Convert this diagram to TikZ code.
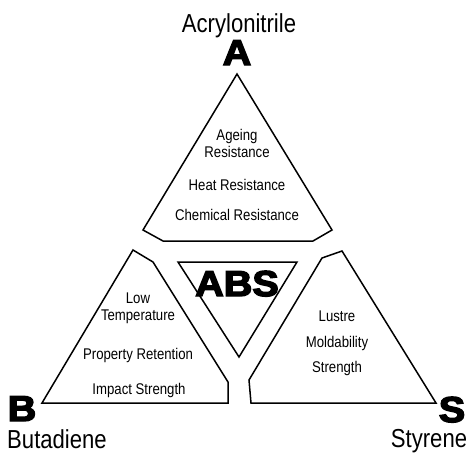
\documentclass[tikz,border=0pt]{standalone}
\usepackage{fontspec}
\setmainfont[FakeStretch=0.85]{Liberation Sans}
\newfontfamily\heavyfont[FakeBold=4,FakeStretch=1.1]{Liberation Sans Bold}
\usetikzlibrary{positioning}

\tikzset{
  part/.style={draw=black,line width=1.5pt,line join=miter},
  prop/.style={font=\fontsize{15.5}{17}\selectfont,align=center,inner sep=0pt},
  monomer/.style={font=\fontsize{26}{28}\selectfont,inner sep=0pt,anchor=base},
  letter/.style={font=\heavyfont\fontsize{36}{36}\selectfont,inner sep=0pt,
                 text depth=0pt,anchor=base}
}

\begin{document}
\begin{tikzpicture}[x=1pt,y=-1pt]
   \useasboundingbox (0,0) rectangle (466,453);
   % corner points of the blocks
   \coordinate (a_top) at (237,74);
   \coordinate (a_r)   at (332,230);
   \coordinate (a_rb)  at (313,241);
   \coordinate (a_lb)  at (163,241);
   \coordinate (a_l)   at (143,230);
   \coordinate (b_top) at (133,250);
   \coordinate (b_cut) at (153,262);
   \coordinate (b_rt)  at (228,382);
   \coordinate (b_rb)  at (228,403);
   \coordinate (b_l)   at (42,403);
   \coordinate (s_top) at (342,251);
   \coordinate (s_cut) at (322,258);
   \coordinate (s_lt)  at (249,380);
   \coordinate (s_lb)  at (251,403);
   \coordinate (s_r)   at (436,403);
   \coordinate (c_l)   at (178,262);
   \coordinate (c_r)   at (297,262);
   \coordinate (c_b)   at (239,357);

   \draw[part] (a_top) -- (a_r) -- (a_rb) -- (a_lb) -- (a_l) -- cycle;
   \draw[part] (b_top) -- (b_cut) -- (b_rt) -- (b_rb) -- (b_l) -- cycle;
   \draw[part] (s_top) -- (s_cut) -- (s_lt) -- (s_lb) -- (s_r) -- cycle;
   \draw[part] (c_l) -- (c_r) -- (c_b) -- cycle;

   % labels
   \node[monomer] (acn) at (239,32) {Acrylonitrile};
   \node[letter] (A) at (237,65) {A};
   \node[letter] (B) at (22,421) {B};
   \node[monomer] (bd) at (57,448) {Butadiene};
   \node[letter] (S) at (452,422) {S};
   \node[monomer] (sty) at (429,447) {Styrene};
   \node[letter] (abs) at (237,296) {ABS};

   \node[prop] (age)  at (237,143) {Ageing\\Resistance};
   \node[prop] (heat) at (237,185) {Heat Resistance};
   \node[prop] (chem) at (237,215) {Chemical Resistance};

   \node[prop] (low)  at (138,308) {Low\\Temperature};
   \node[prop] (ret)  at (138,355) {Property Retention};
   \node[prop] (imp)  at (139,390) {Impact Strength};

   \node[prop] (lus)  at (337,316) {Lustre};
   \node[prop] (mold) at (337,343) {Moldability};
   \node[prop] (str)  at (337,368) {Strength};
\end{tikzpicture}
\end{document}
